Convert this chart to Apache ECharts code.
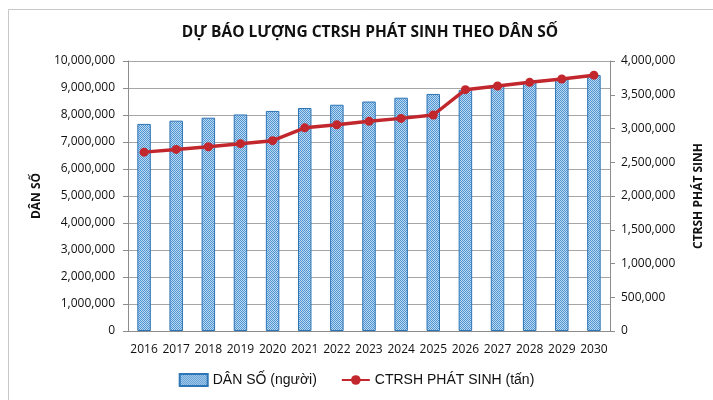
<!DOCTYPE html>
<html>
<head>
<meta charset="utf-8">
<script src="https://cdn.jsdelivr.net/npm/echarts@6/dist/echarts.min.js"></script>
<style>html,body{margin:0;padding:0;background:#fff}#c{width:713px;height:400px}</style>
</head>
<body>
<div id="c"></div>
<script>
const years = ['2016','2017','2018','2019','2020','2021','2022','2023','2024','2025','2026','2027','2028','2029','2030'];
const population = [7670000,7790000,7900000,8020000,8150000,8260000,8380000,8500000,8640000,8780000,8930000,9090000,9230000,9360000,9480000];
const waste = [2650000,2690000,2730000,2775000,2820000,3010000,3056000,3106000,3150000,3200000,3575000,3630000,3684000,3733000,3790000];
const leftTicks = {min:0, max:10000000, interval:1000000};
const rightTicks = {min:0, max:4000000, interval:500000};

function makePattern(){
  const cv = document.createElement('canvas');
  cv.width = 2; cv.height = 2;
  const g = cv.getContext('2d');
  g.fillStyle = '#bcdaf1'; g.fillRect(0,0,2,2);
  g.fillStyle = '#4f93d0'; g.fillRect(0,0,1,1); g.fillRect(1,1,1,1);
  return cv;
}
const pattern = {image: makePattern(), repeat: 'repeat'};
const fmt = v => v.toLocaleString('en-US');
const font = '"Open Sans", sans-serif';

const chart = echarts.init(document.getElementById('c'));
chart.setOption({
  animation: false,
  title: {
    text: 'DỰ BÁO LƯỢNG CTRSH PHÁT SINH THEO DÂN SỐ',
    left: 365, top: 20, textAlign: 'center',
    textStyle: {fontFamily: font, fontWeight: 'bold', fontSize: 15.5, color: '#111'}
  },
  graphic: [{type:'rect', shape:{x:8.5,y:9.5,width:710,height:395}, style:{fill:'none', stroke:'#c8c8c8', lineWidth:1}, silent:true}],
  legend: {
    bottom: 8, left: 'center', itemGap: 24, itemWidth: 28, itemHeight: 12,
    textStyle: {fontFamily: '"Liberation Sans", Arial, sans-serif', fontSize: 14, color: '#111'},
    data: [
      {name: 'DÂN SỐ (người)', icon: 'rect'},
      {name: 'CTRSH PHÁT SINH (tấn)'}
    ]
  },
  grid: {left: 128, right: 103, top: 61, bottom: 69},
  xAxis: {
    type: 'category', data: years,
    axisLine: {lineStyle: {color: '#8c8c8c'}},
    axisTick: {lineStyle: {color: '#8c8c8c'}, length: 5},
    axisLabel: {fontFamily: font, fontSize: 12, color: '#111', margin: 13, interval: 0}
  },
  yAxis: [{
    type: 'value', ...leftTicks,
    name: 'DÂN SỐ', nameLocation: 'middle', nameGap: 83, nameRotate: 90,
    nameTextStyle: {fontFamily: font, fontWeight: 'bold', fontSize: 12, color: '#111'},
    axisLine: {show: true, lineStyle: {color: '#8c8c8c'}},
    axisTick: {show: true, length: 5, lineStyle: {color: '#8c8c8c'}},
    splitLine: {lineStyle: {color: '#a6a6a6'}},
    axisLabel: {fontFamily: font, fontSize: 12, color: '#111', margin: 13, formatter: fmt}
  }, {
    type: 'value', ...rightTicks,
    name: 'CTRSH PHÁT SINH', nameLocation: 'middle', nameGap: 83, nameRotate: 90,
    nameTextStyle: {fontFamily: font, fontWeight: 'bold', fontSize: 12, color: '#111'},
    axisLine: {show: true, lineStyle: {color: '#8c8c8c'}},
    axisTick: {show: true, length: 5, lineStyle: {color: '#8c8c8c'}},
    splitLine: {show: false},
    axisLabel: {fontFamily: font, fontSize: 12, color: '#111', margin: 11, formatter: fmt}
  }],
  series: [{
    name: 'DÂN SỐ (người)', type: 'bar', yAxisIndex: 0, data: population,
    barWidth: '42%',
    itemStyle: {color: pattern, borderColor: '#2e75b6', borderWidth: 1}
  }, {
    name: 'CTRSH PHÁT SINH (tấn)', type: 'line', yAxisIndex: 1, data: waste,
    symbol: 'circle', symbolSize: 9,
    lineStyle: {color: '#c1272d', width: 3.5},
    itemStyle: {color: '#c1272d'}
  }]
});
</script>
</body>
</html>
